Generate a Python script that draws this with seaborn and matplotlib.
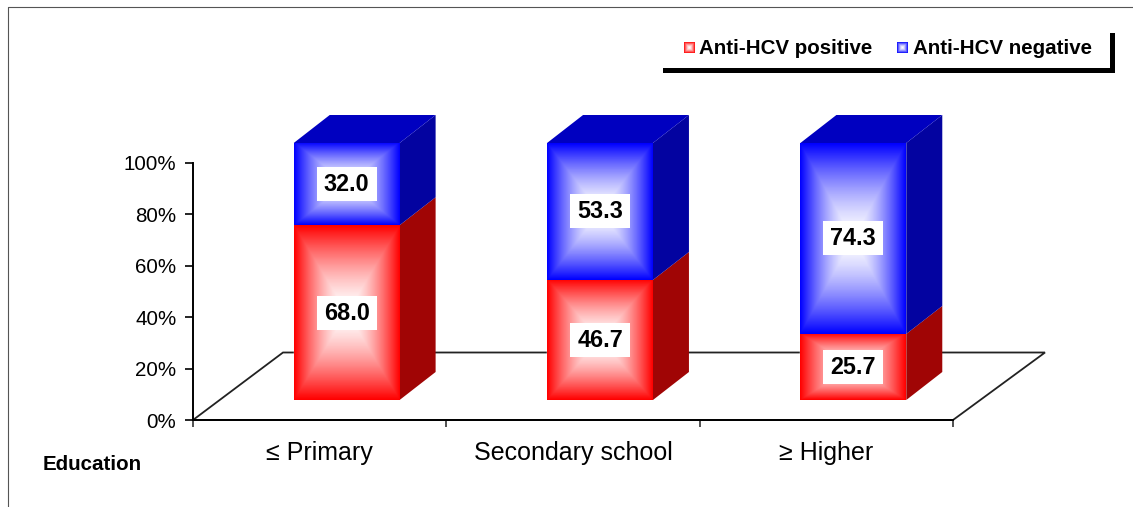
import numpy as np
import pandas as pd
import matplotlib
matplotlib.use("Agg")
import matplotlib.pyplot as plt
import seaborn as sns
from matplotlib.colors import LinearSegmentedColormap
from matplotlib.patches import Polygon, Rectangle
from matplotlib.transforms import IdentityTransform

# data
education = ["\u2264 Primary", "Secondary school", "\u2265 Higher"]
positive = [68.0, 46.7, 25.7]
negative = [32.0, 53.3, 74.3]
y_ticks = [0, 20, 40, 60, 80, 100]
y_labels = ["0%", "20%", "40%", "60%", "80%", "100%"]
legend_labels = ["Anti-HCV positive", "Anti-HCV negative"]

# look
W, H = 1133, 507
RED, RED_DARK = "#ff0000", "#a00505"
BLUE, BLUE_DARK, BLUE_TOP = "#0000ff", "#0303a0", "#0000c0"
DEPTH = (36, 28)

sns.set_theme(style="white")
plt.rcParams["font.family"] = ["Liberation Sans", "DejaVu Sans"]
plt.rcParams["text.color"] = "black"


def px_rect(x0, y0, x1, y1):
    return [x0 / W, 1 - y1 / H, (x1 - x0) / W, (y1 - y0) / H]


def gradient(size=201):
    u = np.linspace(-1, 1, size)
    return np.maximum(np.abs(u)[None, :], np.abs(u)[:, None]) ** 1.5


df = pd.DataFrame({"Education": education, "positive": positive, "negative": negative})

fig = plt.figure(figsize=(W / 100, H / 100), dpi=100, facecolor="white")

# pixel layer behind: page frame and chart floor
ax_px = fig.add_axes([0, 0, 1, 1], zorder=0)
ax_px.set_xlim(0, W)
ax_px.set_ylim(H, 0)
ax_px.axis("off")
ax_px.plot([8, 8, W], [H, 7, 7], color="#555555", lw=0.8)
ax_px.add_patch(Polygon([(193, 420), (283, 352.5), (1045, 352.5), (953, 420)],
                        closed=True, fill=False, edgecolor="#222222", lw=1.3))

# axis with ticks
ax = fig.add_axes(px_rect(193, 163, 953, 420), zorder=1, facecolor="none")
sns.barplot(data=df, x="Education", y="positive", ax=ax, alpha=0)
ax.set_xlim(-0.5, 2.5)
ax.set_ylim(0, 100)
ax.set_xticks(np.arange(-0.5, 3), labels=[])
ax.set_xticks(range(3), labels=education, minor=True)
ax.set_yticks(y_ticks, labels=y_labels)
ax.tick_params(axis="y", labelsize=14.8, length=6, width=1.2, color="black",
               left=True, pad=6, labelcolor="black")
ax.tick_params(axis="x", which="major", length=5, width=1.2, color="#333333", bottom=True)
ax.tick_params(axis="x", which="minor", length=0, labelsize=18, pad=15, labelcolor="black")
ax.set_xlabel("")
ax.set_ylabel("")
sns.despine(ax=ax, top=True, right=True)
for side in ["left", "bottom"]:
    ax.spines[side].set_color("black")
    ax.spines[side].set_linewidth(1.4)

# bars, shifted up and back on the floor
ax_bars = fig.add_axes(px_rect(220, 143, 980, 400), zorder=2, facecolor="none")
sns.barplot(data=df, x="Education", y="positive", color=RED, saturation=1,
            width=0.418, ax=ax_bars)
sns.barplot(data=df, x="Education", y="negative", bottom=df["positive"], color=BLUE,
            saturation=1, width=0.418, ax=ax_bars)
ax_bars.set_xlim(-0.5, 2.5)
ax_bars.set_ylim(0, 100)
ax_bars.axis("off")

cmaps = {
    RED: LinearSegmentedColormap.from_list("r", ["white", RED]),
    BLUE: LinearSegmentedColormap.from_list("b", ["white", BLUE]),
}
identity = IdentityTransform()
bars_list = [b for c in ax_bars.containers for b in c]
n = len(education)
for i, bar in enumerate(bars_list):
    base = RED if i < n else BLUE
    x0, x1 = bar.get_x(), bar.get_x() + bar.get_width()
    y0, y1 = bar.get_y(), bar.get_y() + bar.get_height()
    ax_bars.imshow(gradient(), cmap=cmaps[base], extent=(x0, x1, y0, y1), aspect="auto",
                   origin="lower", vmin=0, vmax=1, zorder=3, interpolation="bilinear")

    # 3d faces, in display pixels from the bar corners
    (px0, py0), (px1, py1) = ax_bars.transData.transform([(x0, y0), (x1, y1)])
    dx, dy = DEPTH
    ax_bars.add_patch(Polygon([(px1, py0), (px1 + dx, py0 + dy), (px1 + dx, py1 + dy), (px1, py1)],
                              closed=True, transform=identity, clip_on=False, lw=0,
                              facecolor=RED_DARK if i < n else BLUE_DARK, zorder=2))
    if i >= n:
        ax_bars.add_patch(Polygon([(px0, py1), (px1, py1), (px1 + dx, py1 + dy), (px0 + dx, py1 + dy)],
                                  closed=True, transform=identity, clip_on=False, lw=0,
                                  facecolor=BLUE_TOP, zorder=2))

    # value label on a white box
    cx, cy = (px0 + px1) / 2, (py0 + py1) / 2
    ax_bars.add_patch(Rectangle((cx - 30, cy - 17), 60, 34, transform=identity, clip_on=False,
                                facecolor="white", lw=0, zorder=4))
    ax_bars.text(cx, cy - 0.5, f"{bar.get_height():.1f}", transform=identity, ha="center",
                 va="center", fontsize=16.8, fontweight="bold", color="black", zorder=5)
ax_bars.set_xlim(-0.5, 2.5)
ax_bars.set_ylim(0, 100)

# legend box and axis title, top pixel layer
ax_top = fig.add_axes([0, 0, 1, 1], zorder=3, facecolor="none")
ax_top.set_xlim(0, W)
ax_top.set_ylim(H, 0)
ax_top.axis("off")
ax_top.fill([663, 1115, 1115, 1110, 1110, 663], [73, 73, 33, 33, 68, 68], color="black", lw=0)
for lx, tx, base, label in zip([684, 897], [699, 913], [RED, BLUE], legend_labels):
    ax_top.imshow(gradient(), cmap=cmaps[base], extent=(lx, lx + 11, 53, 42), aspect="auto",
                  vmin=0, vmax=1, zorder=3)
    ax_top.text(tx, 48, label, fontsize=14.8, fontweight="bold", va="center", ha="left", color="black")
ax_top.text(43, 465, "Education", fontsize=14.8, fontweight="bold", va="center", ha="left", color="black")
ax_top.set_xlim(0, W)
ax_top.set_ylim(H, 0)

fig.savefig("out.png", dpi=100)
